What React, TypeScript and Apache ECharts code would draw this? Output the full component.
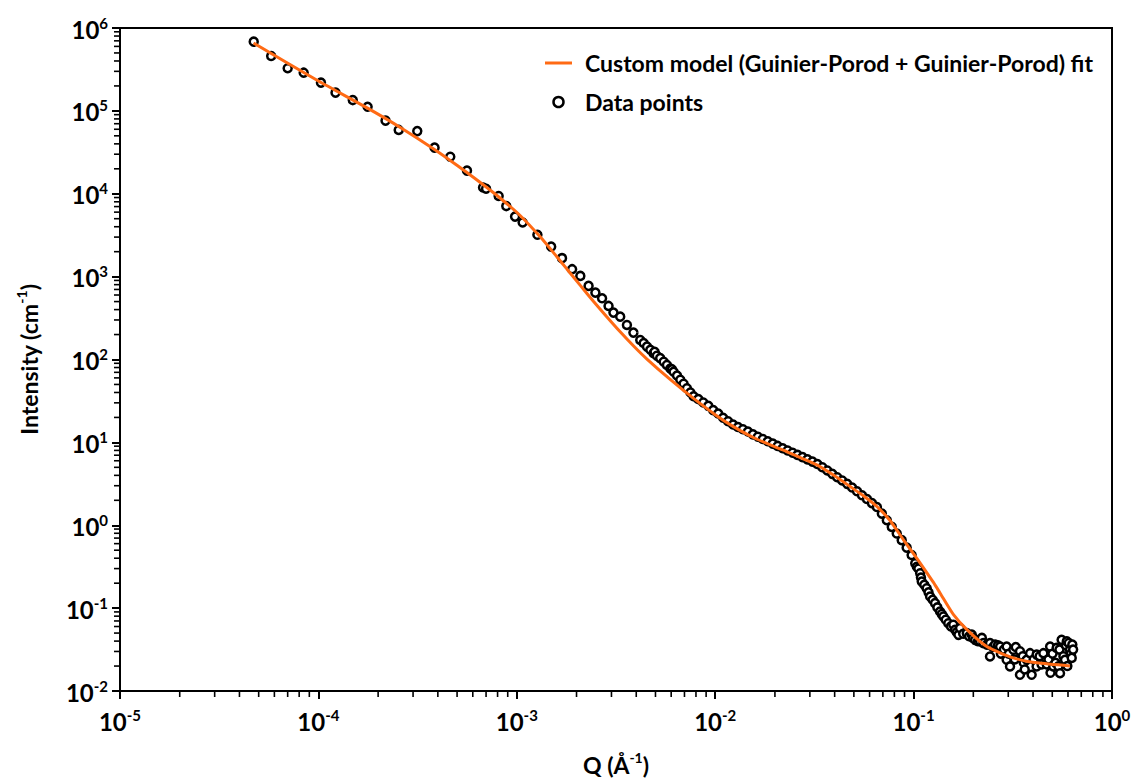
import React, { useEffect, useRef } from "react";
import * as echarts from "echarts";

// ---- Data ----
const LEGEND_FIT = "Custom model (Guinier-Porod + Guinier-Porod) fit";
const LEGEND_DATA = "Data points";

const X_MIN = 1e-5;
const X_MAX = 1;
const Y_MIN = 1e-2;
const Y_MAX = 1e6;

// decades of each axis and log minor-tick multipliers
const X_DECADES = [-5, -4, -3, -2, -1];
const Y_DECADES = [-2, -1, 0, 1, 2, 3, 4, 5];
const MINOR_MULTIPLIERS = [2, 3, 4, 5, 6, 7, 8, 9];

// Fitted curve: [Q, I]
const FIT_CURVE: number[][] = [
  [4.71e-5, 6.59e5],
  [1.0e-4, 2.29e5],
  [1.778e-4, 1.072e5],
  [2.588e-4, 6.31e4],
  [3.882e-4, 3.373e4],
  [5.012e-4, 2.188e4],
  [6.546e-4, 1.365e4],
  [8.318e-4, 8.71e3],
  [1.042e-3, 5.433e3],
  [1.312e-3, 3.02e3],
  [1.585e-3, 1.758e3],
  [1.791e-3, 1.23e3],
  [2.089e-3, 785],
  [2.438e-3, 501],
  [2.818e-3, 335],
  [3.319e-3, 216],
  [3.89e-3, 144.5],
  [4.529e-3, 101.2],
  [5.929e-3, 57.5],
  [7.78e-3, 33.9],
  [0.01, 21.6],
  [0.01236, 15.49],
  [0.01585, 11.22],
  [0.02208, 8.04],
  [0.03251, 5.36],
  [0.03981, 3.98],
  [0.04786, 2.931],
  [0.05623, 2.239],
  [0.06531, 1.683],
  [0.07586, 1.148],
  [0.08892, 0.6668],
  [0.1, 0.4519],
  [0.1119, 0.309],
  [0.1259, 0.2042],
  [0.1361, 0.1514],
  [0.1585, 0.08414],
  [0.1862, 0.0547],
  [0.235, 0.03412],
  [0.3177, 0.02512],
  [0.4188, 0.02188],
  [0.6138, 0.02009],
];

// Data points, low Q (sparse)
const SPARSE_POINTS: number[][] = [
  [4.72e-5, 6.84e5],
  [5.78e-5, 4.59e5],
  [7.0e-5, 3.27e5],
  [8.43e-5, 2.89e5],
  [1.03e-4, 2.19e5],
  [1.22e-4, 1.66e5],
  [1.49e-4, 1.35e5],
  [1.77e-4, 1.12e5],
  [2.18e-4, 7.62e4],
  [2.54e-4, 5.89e4],
  [3.15e-4, 5.7e4],
  [3.85e-4, 3.6e4],
  [4.62e-4, 2.8e4],
  [5.61e-4, 1.9e4],
  [6.76e-4, 1.19e4],
  [7.0e-4, 1.15e4],
  [8.1e-4, 9.4e3],
  [8.85e-4, 7.1e3],
  [9.8e-4, 5.3e3],
  [1.07e-3, 4.5e3],
  [1.27e-3, 3.2e3],
  [1.49e-3, 2.3e3],
  [1.69e-3, 1.67e3],
  [1.9e-3, 1.23e3],
];

// Data points, 2e-3 .. 8e-3
const MID_POINTS: number[][] = [
  [2.09e-3, 1020],
  [2.3e-3, 773],
  [2.49e-3, 641],
  [2.69e-3, 548],
  [2.9e-3, 443],
  [3.07e-3, 368],
  [3.32e-3, 329],
  [3.59e-3, 261],
  [3.87e-3, 211],
  [4.19e-3, 172],
  [4.36e-3, 158],
  [4.53e-3, 143],
  [4.71e-3, 131],
  [4.89e-3, 119],
  [4.95e-3, 124],
  [5.08e-3, 111],
  [5.28e-3, 104],
  [5.5e-3, 94],
  [5.71e-3, 86],
  [5.94e-3, 78],
  [6.05e-3, 76],
  [6.17e-3, 71],
  [6.42e-3, 64],
  [6.67e-3, 57],
  [6.93e-3, 51],
  [7.2e-3, 45],
  [7.5e-3, 40],
  [7.78e-3, 36],
];

// Data points, dense band 8e-3 .. 0.1
const BAND_POINTS: number[][] = [
  [8.22e-3, 33.3],
  [8.71e-3, 30.3],
  [9.23e-3, 27.6],
  [9.77e-3, 24.5],
  [0.01035, 22.3],
  [0.01096, 19.8],
  [0.01161, 18.0],
  [0.0123, 16.4],
  [0.01303, 15.3],
  [0.0138, 14.4],
  [0.01462, 13.5],
  [0.01549, 12.5],
  [0.01641, 11.7],
  [0.01738, 11.0],
  [0.01841, 10.3],
  [0.0195, 9.66],
  [0.02065, 9.06],
  [0.02188, 8.49],
  [0.02317, 7.98],
  [0.02455, 7.5],
  [0.026, 7.06],
  [0.02754, 6.64],
  [0.02917, 6.24],
  [0.0309, 5.86],
  [0.03273, 5.48],
  [0.03467, 5.01],
  [0.03673, 4.58],
  [0.0389, 4.17],
  [0.04121, 3.8],
  [0.04365, 3.47],
  [0.04624, 3.16],
  [0.04898, 2.85],
  [0.05188, 2.57],
  [0.05495, 2.3],
  [0.05821, 2.07],
  [0.06166, 1.85],
  [0.06531, 1.66],
  [0.06918, 1.38],
  [0.07328, 1.15],
  [0.07762, 0.955],
  [0.08222, 0.794],
  [0.0871, 0.661],
  [0.09226, 0.537],
  [0.09772, 0.437],
];

// Data points, high Q tail 0.1 .. 0.64
const TAIL_POINTS: number[][] = [
  [0.1019, 0.348],
  [0.1038, 0.316],
  [0.1057, 0.3],
  [0.1079, 0.264],
  [0.1089, 0.234],
  [0.1099, 0.209],
  [0.1132, 0.191],
  [0.1164, 0.174],
  [0.1189, 0.155],
  [0.1211, 0.138],
  [0.1247, 0.126],
  [0.1282, 0.115],
  [0.1318, 0.102],
  [0.1358, 0.091],
  [0.1387, 0.0851],
  [0.1413, 0.0793],
  [0.1452, 0.0724],
  [0.1496, 0.0658],
  [0.1542, 0.0603],
  [0.1585, 0.0631],
  [0.1618, 0.0547],
  [0.1652, 0.0513],
  [0.1683, 0.0476],
  [0.1714, 0.0575],
  [0.1778, 0.049],
  [0.1854, 0.0499],
  [0.1905, 0.0457],
  [0.1963, 0.0479],
  [0.1995, 0.0437],
  [0.2042, 0.0414],
  [0.2109, 0.0398],
  [0.2163, 0.0398],
  [0.2208, 0.0437],
  [0.2249, 0.0378],
  [0.2344, 0.0363],
  [0.2427, 0.0378],
  [0.2427, 0.0261],
  [0.2512, 0.0339],
  [0.2576, 0.0363],
  [0.2661, 0.0355],
  [0.2729, 0.0344],
  [0.2754, 0.0282],
  [0.2851, 0.0316],
  [0.2944, 0.0344],
  [0.2944, 0.0238],
  [0.302, 0.0282],
  [0.3062, 0.0198],
  [0.3184, 0.0314],
  [0.3236, 0.024],
  [0.3273, 0.0339],
  [0.3436, 0.0302],
  [0.3436, 0.0157],
  [0.3548, 0.0263],
  [0.3589, 0.0219],
  [0.3631, 0.0182],
  [0.3715, 0.0238],
  [0.3864, 0.0286],
  [0.3936, 0.0157],
  [0.4027, 0.024],
  [0.4169, 0.0198],
  [0.4169, 0.0275],
  [0.4315, 0.0263],
  [0.4416, 0.0209],
  [0.4508, 0.0286],
  [0.4688, 0.0209],
  [0.4786, 0.024],
  [0.4875, 0.0344],
  [0.4898, 0.0166],
  [0.5012, 0.0282],
  [0.5058, 0.0198],
  [0.5188, 0.0219],
  [0.526, 0.0331],
  [0.537, 0.0198],
  [0.5433, 0.0316],
  [0.547, 0.0164],
  [0.5572, 0.0414],
  [0.5689, 0.0263],
  [0.5794, 0.0238],
  [0.5861, 0.0355],
  [0.5916, 0.0398],
  [0.5957, 0.02],
  [0.6053, 0.038],
  [0.6138, 0.0314],
  [0.6209, 0.0282],
  [0.6266, 0.0251],
  [0.631, 0.0363],
  [0.6368, 0.0316],
];

const FONT = "Lato, 'Open Sans', 'DejaVu Sans', sans-serif";
const ORANGE = "#ff6a14";
const MINOR_LEN = 5;
const MINOR_W = 1.6;

const powLabel = (v: number) => {
  const e = Math.round(Math.log10(v));
  return `{b|10}{s|${e}}`;
};

const labelRich = {
  b: {
    fontFamily: FONT,
    fontSize: 24,
    fontWeight: "bold",
    color: "#000",
    lineHeight: 26,
    verticalAlign: "bottom",
  },
  s: {
    fontFamily: FONT,
    fontSize: 15,
    fontWeight: "bold",
    color: "#000",
    lineHeight: 15,
    verticalAlign: "top",
  },
};

const nameRich = {
  t: {
    fontFamily: FONT,
    fontSize: 23,
    fontWeight: "bold",
    color: "#000",
    lineHeight: 26,
    verticalAlign: "bottom",
  },
  u: {
    fontFamily: FONT,
    fontSize: 14,
    fontWeight: "bold",
    color: "#000",
    lineHeight: 14,
    verticalAlign: "top",
  },
};

export default function App() {
  const ref = useRef<HTMLDivElement>(null);

  useEffect(() => {
    if (!ref.current) return;
    const chart = echarts.init(ref.current, null, { renderer: "svg" });
    const dataPoints = [...SPARSE_POINTS, ...MID_POINTS, ...BAND_POINTS, ...TAIL_POINTS];

    // log minor tick positions (2..9 x 10^k), placed on the axes through the scales
    const xMinor: number[][] = [];
    X_DECADES.forEach((d) =>
      MINOR_MULTIPLIERS.forEach((m) => xMinor.push([m * Math.pow(10, d), Y_MIN]))
    );
    const yMinor: number[][] = [];
    Y_DECADES.forEach((d) =>
      MINOR_MULTIPLIERS.forEach((m) => yMinor.push([X_MIN, m * Math.pow(10, d)]))
    );

    const axisCommon = {
      axisLine: { show: true, onZero: false, lineStyle: { color: "#000", width: 2 } },
      axisTick: { show: true, inside: false, length: 8, lineStyle: { color: "#000", width: 2 } },
      minorTick: { show: false },
      splitLine: { show: false },
      minorSplitLine: { show: false },
    };

    chart.setOption({
      animation: false,
      backgroundColor: "#fff",
      grid: {
        left: 120,
        top: 28,
        width: 992,
        height: 663,
        show: true,
        borderColor: "#000",
        borderWidth: 2,
        backgroundColor: "#fff",
        containLabel: false,
        outerBoundsMode: "none",
      },
      legend: {
        orient: "vertical",
        left: 540,
        top: 45,
        itemWidth: 27,
        itemHeight: 10,
        itemGap: 13,
        selectedMode: false,
        data: [
          {
            name: LEGEND_FIT,
            icon: "path://M0 0H27V3H0Z",
            itemStyle: { color: ORANGE },
          },
          {
            name: LEGEND_DATA,
            icon: "circle",
            itemStyle: { color: "#fff", borderColor: "#000", borderWidth: 2.5 },
          },
        ],
        textStyle: {
          fontFamily: FONT,
          fontSize: 23,
          fontWeight: "bold",
          color: "#000",
          lineHeight: 26,
          padding: [0, 0, 0, 8],
        },
      },
      xAxis: {
        type: "log",
        logBase: 10,
        min: X_MIN,
        max: X_MAX,
        splitNumber: 5,
        ...axisCommon,
        axisLabel: {
          margin: 16,
          formatter: powLabel,
          rich: labelRich,
          showMinLabel: true,
          showMaxLabel: true,
        },
        name: "{t|Q (Å}{u|-1}{t|)}",
        nameLocation: "middle",
        nameGap: 59,
        nameTextStyle: { rich: nameRich },
      },
      yAxis: {
        type: "log",
        logBase: 10,
        min: Y_MIN,
        max: Y_MAX,
        splitNumber: 8,
        ...axisCommon,
        axisLabel: {
          margin: 12,
          formatter: powLabel,
          rich: labelRich,
          showMinLabel: true,
          showMaxLabel: true,
        },
        name: "{t|Intensity (cm}{u|-1}{t|)}",
        nameLocation: "middle",
        nameGap: 80,
        nameTextStyle: { rich: nameRich },
      },
      series: [
        {
          name: "xMinorTicks",
          type: "scatter",
          data: xMinor,
          clip: false,
          silent: true,
          symbol: "rect",
          symbolSize: [MINOR_W, MINOR_LEN],
          symbolOffset: [0, 1 + MINOR_LEN / 2],
          itemStyle: { color: "#000", opacity: 1 },
          z: 10,
        },
        {
          name: "yMinorTicks",
          type: "scatter",
          data: yMinor,
          clip: false,
          silent: true,
          symbol: "rect",
          symbolSize: [MINOR_LEN, MINOR_W],
          symbolOffset: [-(1 + MINOR_LEN / 2), 0],
          itemStyle: { color: "#000", opacity: 1 },
          z: 10,
        },
        {
          name: LEGEND_DATA,
          type: "scatter",
          data: dataPoints,
          symbol: "circle",
          symbolSize: 8,
          itemStyle: { color: "#fff", borderColor: "#000", borderWidth: 2.5, opacity: 1 },
          z: 2,
        },
        {
          name: LEGEND_FIT,
          type: "line",
          data: FIT_CURVE,
          showSymbol: false,
          symbol: "none",
          smooth: 0.2,
          lineStyle: { color: ORANGE, width: 3 },
          itemStyle: { color: ORANGE },
          z: 3,
        },
      ],
    });

    return () => chart.dispose();
  }, []);

  return (
    <div
      ref={ref}
      style={{ position: "fixed", left: 0, top: 0, width: 1137, height: 783 }}
    />
  );
}
